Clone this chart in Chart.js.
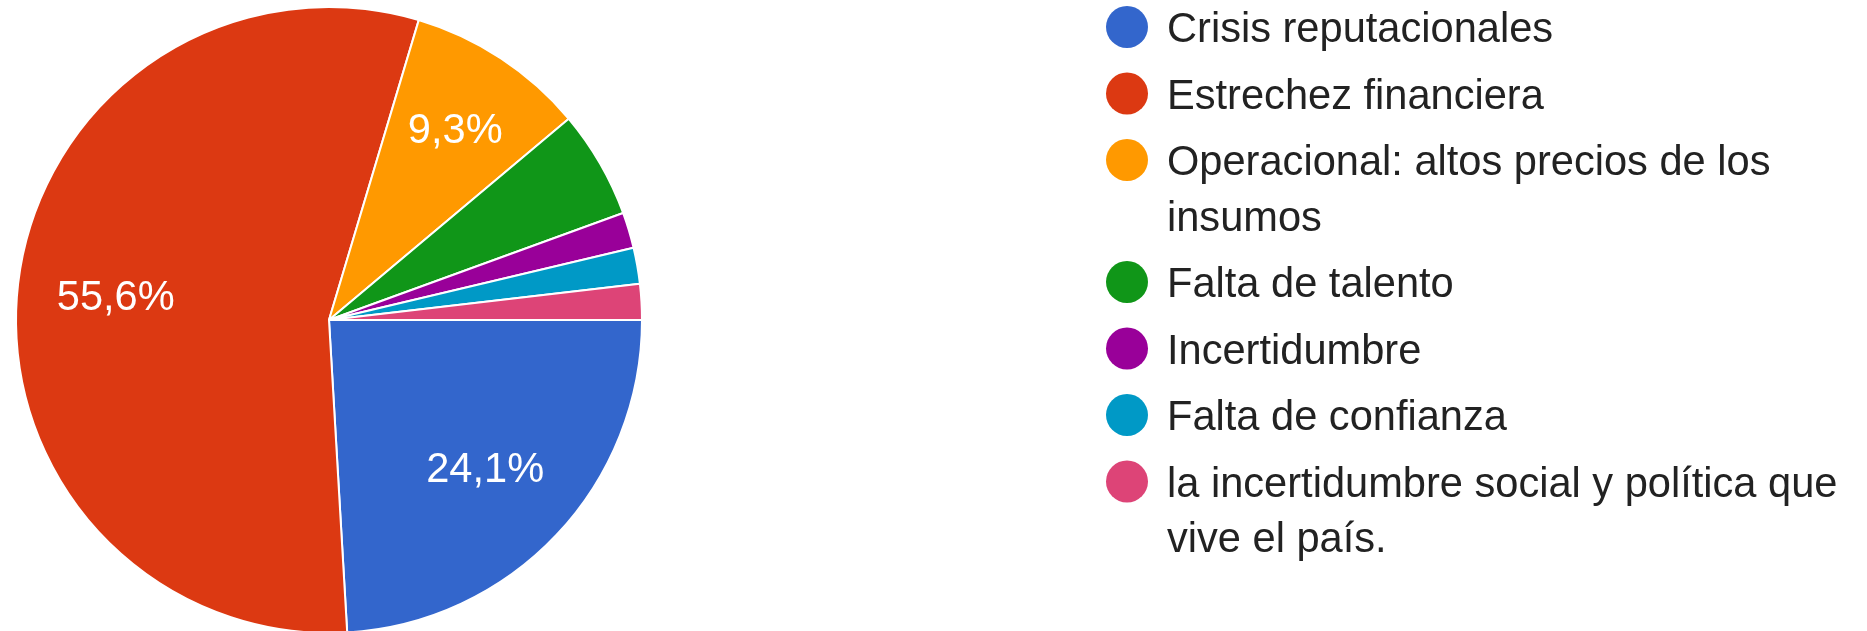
<!DOCTYPE html>
<html>
<head>
<meta charset="utf-8">
<script src="https://cdn.jsdelivr.net/npm/chart.js@4"></script>
<style>
  html, body { margin: 0; padding: 0; background: #ffffff; overflow: hidden; }
  #wrap { position: absolute; left: 0; top: 0; width: 1867px; height: 640px; }
</style>
</head>
<body>
<div id="wrap"><canvas id="c"></canvas></div>
<script>
const categories = [
  'Crisis reputacionales',
  'Estrechez financiera',
  'Operacional: altos precios de los insumos',
  'Falta de talento',
  'Incertidumbre',
  'Falta de confianza',
  'la incertidumbre social y política que vive el país.'
];
const responses = [13, 30, 5, 3, 1, 1, 1];
const sliceColors = ['#3366cc', '#dc3912', '#ff9900', '#109618', '#990099', '#0099c6', '#dd4477'];

const FONT = '"Liberation Sans", Arial, sans-serif';
const FONT_SIZE = 41.6;

const sliceLabels = {
  id: 'sliceLabels',
  afterDatasetsDraw(chart) {
    const ctx = chart.ctx;
    const meta = chart.getDatasetMeta(0);
    const data = chart.data.datasets[0].data;
    const total = data.reduce((a, b) => a + b, 0);
    ctx.save();
    ctx.font = FONT_SIZE + 'px ' + FONT;
    ctx.fillStyle = '#ffffff';
    ctx.textAlign = 'center';
    ctx.textBaseline = 'alphabetic';
    const capH = FONT_SIZE * 0.716;
    const pad = 16;
    meta.data.forEach((arc, i) => {
      const frac = data[i] / total;
      if (frac < 0.08) return;
      const p = arc.getProps(['x', 'y', 'startAngle', 'endAngle', 'outerRadius'], true);
      const mid = (p.startAngle + p.endAngle) / 2;
      const txt = (frac * 100).toFixed(1).replace('.', ',') + '%';
      const w = ctx.measureText(txt).width;
      const fits = (d) => {
        const cx = Math.cos(mid) * d, cy = Math.sin(mid) * d;
        for (const sx of [-1, 1]) for (const sy of [-1, 1]) {
          const px = cx + sx * w / 2, py = cy + sy * capH / 2;
          const rc = Math.hypot(px, py);
          let th = Math.atan2(py, px);
          while (th < p.startAngle) th += Math.PI * 2;
          while (th > p.startAngle + Math.PI * 2) th -= Math.PI * 2;
          const a1 = th - p.startAngle, a2 = p.endAngle - th;
          if (a1 < 0 || a2 < 0) return false;
          if (a1 < Math.PI / 2 && rc * Math.sin(a1) < pad) return false;
          if (a2 < Math.PI / 2 && rc * Math.sin(a2) < pad) return false;
          if (rc > p.outerRadius - pad) return false;
        }
        return true;
      };
      let d = p.outerRadius * 0.686;
      while (!fits(d) && d < p.outerRadius * 0.85) d += 1;
      ctx.fillText(txt, p.x + Math.cos(mid) * d, p.y + Math.sin(mid) * d + capH / 2);
    });
    ctx.restore();
  }
};

const sideLegend = {
  id: 'sideLegend',
  afterDraw(chart) {
    const ctx = chart.ctx;
    const labels = chart.data.labels;
    const colors = chart.data.datasets[0].backgroundColor;
    const circleX = 1127, textX = 1167, maxW = 695;
    const itemGap = 66.5, lineH = 55.5;
    let y = 27;
    ctx.save();
    ctx.font = FONT_SIZE + 'px ' + FONT;
    ctx.textAlign = 'left';
    ctx.textBaseline = 'alphabetic';
    labels.forEach((lab, i) => {
      const words = lab.split(' ');
      const lines = [];
      let cur = '';
      words.forEach(w => {
        const test = cur ? cur + ' ' + w : w;
        if (cur && ctx.measureText(test).width > maxW) { lines.push(cur); cur = w; }
        else cur = test;
      });
      if (cur) lines.push(cur);
      ctx.beginPath();
      ctx.arc(circleX, y, 21, 0, Math.PI * 2);
      ctx.fillStyle = colors[i];
      ctx.fill();
      ctx.fillStyle = '#222222';
      lines.forEach((ln, k) => ctx.fillText(ln, textX, y + 15 + k * lineH));
      y += itemGap + (lines.length - 1) * lineH;
    });
    ctx.restore();
  }
};

new Chart(document.getElementById('c'), {
  type: 'pie',
  data: {
    labels: categories,
    datasets: [{
      data: responses,
      backgroundColor: sliceColors,
      borderColor: '#ffffff',
      borderWidth: 2
    }]
  },
  options: {
    responsive: true,
    maintainAspectRatio: false,
    animation: false,
    rotation: 90,
    layout: { padding: { left: 15, right: 1224, top: 6, bottom: 6 } },
    plugins: { legend: { display: false }, tooltip: { enabled: false } }
  },
  plugins: [sliceLabels, sideLegend]
});
</script>
</body>
</html>
